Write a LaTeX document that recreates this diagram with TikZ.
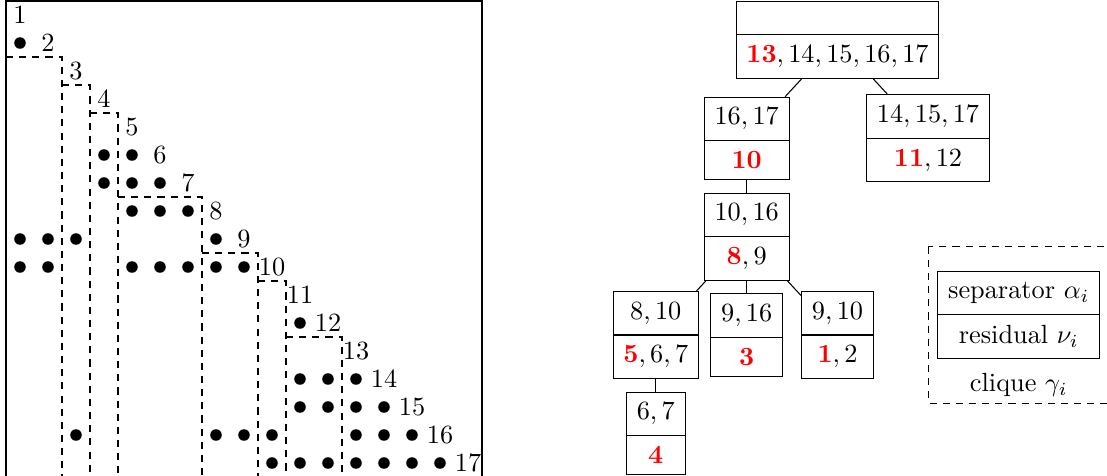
\documentclass[tikz,border=0pt]{standalone}
\usetikzlibrary{shapes.multipart}
\newcommand{\rb}[1]{\textcolor{red}{\mathbf{#1}}}
\tikzset{
  clq/.style={draw, rectangle split, rectangle split parts=2, inner sep=3.9pt},
  dot/.style={circle, fill, inner sep=0pt, minimum size=4.4pt},
  lab/.style={inner sep=0pt, font=\fontsize{10}{12}\selectfont},
  sn/.style={dash pattern=on 2.7pt off 2.3pt},
}
\begin{document}
\begin{tikzpicture}[x=0.38023pt, y=-0.38023pt]
\useasboundingbox (0,0) rectangle (1107,475);
% ---- matrix ----
\draw (6,1) rectangle (482,477);
\foreach \k in {1,...,17}
  \node[lab] (l\k) at ({28*\k-8},{28*\k-13}) {\k};
\foreach \r/\c in {2/1, 6/4, 6/5, 7/4, 7/5, 7/6, 8/5, 8/6, 8/7,
  9/1, 9/2, 9/3, 9/8, 10/1, 10/2, 10/5, 10/6, 10/7, 10/8, 10/9,
  12/11, 14/11, 14/12, 14/13, 15/11, 15/12, 15/13, 15/14,
  16/3, 16/8, 16/9, 16/10, 16/13, 16/14, 16/15,
  17/10, 17/11, 17/12, 17/13, 17/14, 17/15, 17/16}
  \node[dot] (d\r-\c) at ({28*\c-8},{28*\r-13}) {};
\foreach \a/\b in {1/2, 3/3, 4/4, 5/7, 8/9, 10/10, 11/12}
  \draw[sn] ({6+28*(\a-1)},{1+28*\b}) -- ({6+28*\b},{1+28*\b}) -- ({6+28*\b},477);
% ---- clique tree ----
\node[clq] (R) at (837.5,40) {\nodepart{two}$\rb{13}, 14, 15, 16, 17$};
\node[clq] (A) at (746.7,138.3) {$16, 17$\nodepart{two}$\rb{10}$};
\node[clq] (B) at (928,138.3) {$14, 15, 17$\nodepart{two}$\rb{11}, 12$};
\node[clq] (C) at (746.7,236.7) {$10, 16$\nodepart{two}$\rb{8}, 9$};
\node[clq] (D) at (655.8,335) {$8, 10$\nodepart{two}$\rb{5}, 6, 7$};
\node[clq] (E) at (746.7,335) {$9, 16$\nodepart{two}$\rb{3}$};
\node[clq] (F) at (837.5,335) {$9, 10$\nodepart{two}$\rb{1}, 2$};
\node[clq] (G) at (655.8,433.3) {$6, 7$\nodepart{two}$\rb{4}$};
\draw (R) -- (A);
\draw (R) -- (B);
\draw (A) -- (C);
\draw (C) -- (D);
\draw (C) -- (E);
\draw (C) -- (F);
\draw (D) -- (G);
% ---- legend ----
\node[clq] (L) at (1018.8,315) {separator $\alpha_i$\nodepart{two}residual $\nu_i$};
\node (Lc) at (1018.8,385) {clique $\gamma_i$};
\draw[sn] (928.3,246.7) rectangle (1109.5,403.3);
\end{tikzpicture}
\end{document}
